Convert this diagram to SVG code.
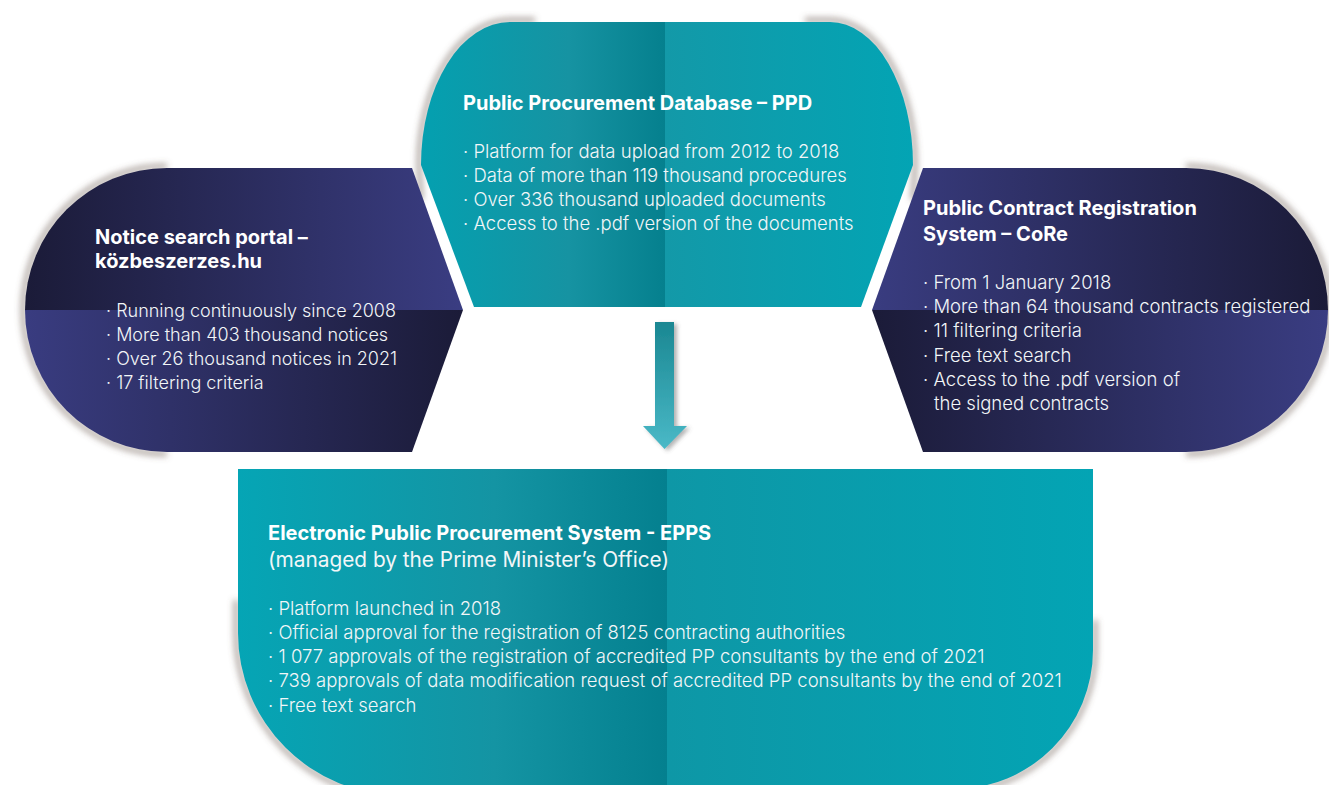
<svg xmlns="http://www.w3.org/2000/svg" width="1329" height="785" viewBox="0 0 1329 785">
<style>
.t{font-family:Inter,"Noto Sans","Liberation Sans",sans-serif;font-weight:700;font-size:20px;fill:#ffffff}
.b{font-family:Inter,"Noto Sans","Liberation Sans",sans-serif;font-weight:300;font-size:18.5px;fill:#f2f6f8}
.sh{fill:none;stroke:#6a5a50;stroke-width:5;stroke-opacity:0.55;filter:url(#blur)}
</style>
<defs>
<filter id="blur" x="-20%" y="-20%" width="140%" height="140%"><feGaussianBlur stdDeviation="3"/></filter>
<filter id="ashadow" x="-50%" y="-20%" width="200%" height="140%"><feDropShadow dx="3" dy="2" stdDeviation="2" flood-color="#555" flood-opacity="0.45"/></filter>
<linearGradient id="gPPD" gradientUnits="userSpaceOnUse" x1="421" y1="0" x2="913" y2="0">
<stop offset="0" stop-color="#04a0b0"/><stop offset="0.3" stop-color="#1693a2"/><stop offset="0.496" stop-color="#05808e"/><stop offset="0.496" stop-color="#1399a8"/><stop offset="1" stop-color="#03a4b4"/>
</linearGradient>
<linearGradient id="gEPPS" gradientUnits="userSpaceOnUse" x1="238" y1="0" x2="1093" y2="0">
<stop offset="0" stop-color="#05a5b5"/><stop offset="0.3" stop-color="#1494a3"/><stop offset="0.502" stop-color="#04808f"/><stop offset="0.502" stop-color="#0e97a6"/><stop offset="1" stop-color="#03a4b4"/>
</linearGradient>
<linearGradient id="gLT" gradientUnits="userSpaceOnUse" x1="25" y1="0" x2="463" y2="0"><stop offset="0" stop-color="#1b1b38"/><stop offset="1" stop-color="#3a3d82"/></linearGradient>
<linearGradient id="gLB" gradientUnits="userSpaceOnUse" x1="25" y1="0" x2="463" y2="0"><stop offset="0" stop-color="#393c80"/><stop offset="1" stop-color="#1b1b38"/></linearGradient>
<linearGradient id="gRT" gradientUnits="userSpaceOnUse" x1="872" y1="0" x2="1328" y2="0"><stop offset="0" stop-color="#393c80"/><stop offset="1" stop-color="#1b1b38"/></linearGradient>
<linearGradient id="gRB" gradientUnits="userSpaceOnUse" x1="872" y1="0" x2="1328" y2="0"><stop offset="0" stop-color="#1b1b38"/><stop offset="1" stop-color="#3a3d82"/></linearGradient>
<linearGradient id="gArrow" x1="0" y1="0" x2="0" y2="1"><stop offset="0" stop-color="#1a8792"/><stop offset="1" stop-color="#4ab9c7"/></linearGradient>
</defs>
<rect width="1329" height="785" fill="#ffffff"/>

<g id="node-ppd">
<path class="sh" d="M421,200 L419,165 A91 145 0 0 1 510,20 L535,20"/>
<path class="sh" d="M805,20 L830,20 A85 145 0 0 1 915,165 L913,200"/>
<path d="M510,22 L830,22 A83 143 0 0 1 913,165 L861,307 L474,307 L421,165 A89 143 0 0 1 510,22 Z" fill="url(#gPPD)"/>
<text class="t" x="463" y="110">Public Procurement Database – PPD</text>
<text class="b" x="463" y="158">· Platform for data upload from 2012 to 2018</text>
<text class="b" x="463" y="182">· Data of more than 119 thousand procedures</text>
<text class="b" x="463" y="206">· Over 336 thousand uploaded documents</text>
<text class="b" x="463" y="230">· Access to the .pdf version of the documents</text>
</g>

<g id="node-portal">
<path class="sh" d="M167,166 A144 144 0 0 0 167,454"/>
<path d="M412,168 L167,168 A142 142 0 0 0 25,310 L463,310 Z" fill="url(#gLT)"/>
<path d="M25,310 A142 142 0 0 0 167,452 L412,452 L463,310 Z" fill="url(#gLB)"/>
<text class="t" x="95" y="244">Notice search portal –</text>
<text class="t" x="95" y="268">közbeszerzes.hu</text>
<text class="b" x="106" y="317" style="font-size:18px">· Running continuously since 2008</text>
<text class="b" x="106" y="341" style="font-size:18px">· More than 403 thousand notices</text>
<text class="b" x="106" y="365" style="font-size:18px">· Over 26 thousand notices in 2021</text>
<text class="b" x="106" y="389" style="font-size:18px">· 17 filtering criteria</text>
</g>

<g id="node-core">
<path class="sh" d="M1186,166 A144 144 0 0 1 1186,454"/>
<path d="M923,168 L1186,168 A142 142 0 0 1 1328,310 L872,310 Z" fill="url(#gRT)"/>
<path d="M872,310 L1328,310 A142 142 0 0 1 1186,452 L923,452 Z" fill="url(#gRB)"/>
<text class="t" x="923" y="215">Public Contract Registration</text>
<text class="t" x="923" y="241">System – CoRe</text>
<text class="b" x="923" y="289">· From 1 January 2018</text>
<text class="b" x="923" y="313">· More than 64 thousand contracts registered</text>
<text class="b" x="923" y="337">· 11 filtering criteria</text>
<text class="b" x="923" y="362">· Free text search</text>
<text class="b" x="923" y="386">· Access to the .pdf version of</text>
<text class="b" x="934" y="410">the signed contracts</text>
</g>

<g id="node-epps">
<path class="sh" d="M236,600 L236,633 A164 164 0 0 0 400,797"/>
<path class="sh" d="M1095,620 L1095,650 A141 141 0 0 1 954,791"/>
<path d="M238,469 L1093,469 L1093,650 A139 139 0 0 1 954,789 L400,795 A162 162 0 0 1 238,633 Z" fill="url(#gEPPS)"/>
<text class="t" x="268" y="540">Electronic Public Procurement System - EPPS</text>
<text class="b" x="268" y="567" style="font-size:20.8px;font-weight:400">(managed by the Prime Minister’s Office)</text>
<text class="b" x="268" y="615">· Platform launched in 2018</text>
<text class="b" x="268" y="639">· Official approval for the registration of 8125 contracting authorities</text>
<text class="b" x="268" y="663">· 1 077 approvals of the registration of accredited PP consultants by the end of 2021</text>
<text class="b" x="268" y="687">· 739 approvals of data modification request of accredited PP consultants by the end of 2021</text>
<text class="b" x="268" y="712">· Free text search</text>
</g>

<g id="connectors">
<path d="M655,322 L674,322 L674,426 L687,426 L664.5,449 L643,426 L655,426 Z" fill="url(#gArrow)" filter="url(#ashadow)"/>
</g>
</svg>
